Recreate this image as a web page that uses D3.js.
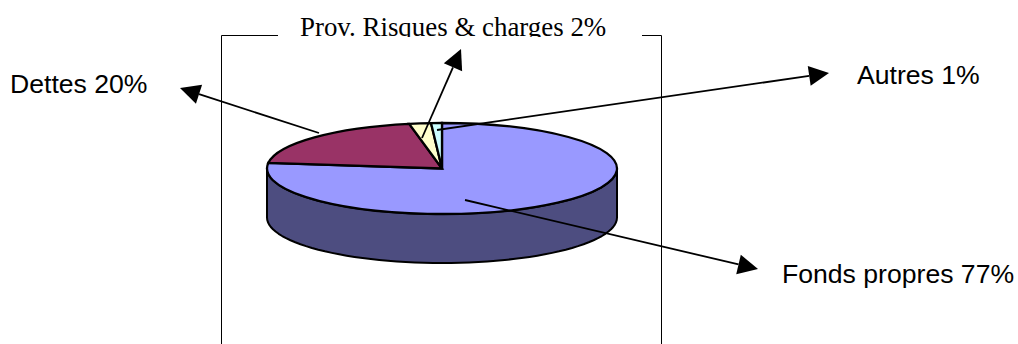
<!DOCTYPE html>
<html>
<head>
<meta charset="utf-8">
<style>
  html, body { margin: 0; padding: 0; background: #fff; }
  svg { display: block; }
</style>
<script src="https://cdn.jsdelivr.net/npm/d3@7/dist/d3.min.js"></script>
</head>
<body>
<svg id="chart" width="1018" height="344"></svg>
<script>
// Balance sheet structure, in percent, clockwise from twelve o'clock
const categories = ["Fonds propres", "Dettes", "Prov. Risques & charges", "Autres"];
const shares = [77, 20, 2, 1];
const sliceColors = ["#9999ff", "#993366", "#ffffcc", "#ccffff"];

// Disc geometry
const cx = 442, cy = 168.5, rx = 175, ry = 45.5, depth = 49;
const sideColor = "#4d4d80";

// Callout layout, one entry per category
const callouts = [
  { from: [465, 200], to: [758, 269], x: 782, y: 283, font: "'Liberation Sans'", size: 26.6 },
  { from: [319, 133], to: [180, 88],  x: 10,  y: 93,  font: "'Liberation Sans'", size: 26.6 },
  { from: [422, 138], to: [461, 49],  x: 300, y: 35.5, font: "'Liberation Serif'", size: 26.9, clip: true },
  { from: [437, 130], to: [829, 73],  x: 857, y: 84,  font: "'Liberation Sans'", size: 26.6 }
];

const svg = d3.select("#chart");

const defs = svg.append("defs");
defs.append("clipPath").attr("id", "title-clip")
  .append("rect").attr("x", 280).attr("y", 0).attr("width", 360).attr("height", 37);

// Plot frame, open at the bottom and interrupted by the top label
const frame = d3.path();
frame.moveTo(278, 35.5); frame.lineTo(221.5, 35.5); frame.lineTo(221.5, 344);
frame.moveTo(642, 35.5); frame.lineTo(661.5, 35.5); frame.lineTo(661.5, 344);
svg.append("path").attr("d", frame.toString())
  .attr("fill", "none").attr("stroke", "#000").attr("stroke-width", 1);

// Cylinder wall below the front half of the disc
const yScale = ry / rx;
const frontEdge = (top) => d3.range(0, 181, 3).map(a => {
  const t = a * Math.PI / 180;
  return [cx - rx * Math.cos(t), top + ry * Math.sin(t)];
});
const line = d3.line();
const wallPts = [
  ...frontEdge(cy + depth),
  ...frontEdge(cy).reverse()
];
svg.append("path")
  .attr("d", line(wallPts) + "Z")
  .attr("fill", sideColor)
  .attr("stroke", "#000")
  .attr("stroke-width", 2)
  .attr("stroke-linejoin", "round");

// Top face of the disc: a circular pie squashed vertically
const pie = d3.pie().sort(null).value(d => d)(shares);
const arc = d3.arc().innerRadius(0).outerRadius(rx);
svg.append("g")
  .attr("transform", `translate(${cx},${cy}) scale(1,${yScale})`)
  .selectAll("path")
  .data(pie)
  .join("path")
  .attr("d", arc)
  .attr("fill", (d, i) => sliceColors[i])
  .attr("stroke", "#000")
  .attr("stroke-width", 2.3)
  .attr("stroke-linejoin", "miter")
  .attr("vector-effect", "non-scaling-stroke");

// Leader arrows and their labels
const arrowLen = 20, arrowHalf = 10;
const leaders = svg.append("g");
categories.forEach((name, i) => {
  const c = callouts[i];
  const [x0, y0] = c.from, [x1, y1] = c.to;
  const len = Math.hypot(x1 - x0, y1 - y0);
  const ux = (x1 - x0) / len, uy = (y1 - y0) / len;
  const bx = x1 - ux * arrowLen, by = y1 - uy * arrowLen;
  leaders.append("line")
    .attr("x1", x0).attr("y1", y0).attr("x2", bx).attr("y2", by)
    .attr("stroke", "#000").attr("stroke-width", 1.8);
  leaders.append("path")
    .attr("d", line([[x1, y1], [bx - uy * arrowHalf, by + ux * arrowHalf], [bx + uy * arrowHalf, by - ux * arrowHalf]]) + "Z")
    .attr("fill", "#000");
  const label = leaders.append("text")
    .attr("x", c.x).attr("y", c.y)
    .attr("font-family", c.font)
    .attr("font-size", c.size)
    .attr("fill", "#000")
    .text(`${name} ${shares[i]}%`);
  if (c.clip) label.attr("clip-path", "url(#title-clip)");
});
</script>
</body>
</html>
